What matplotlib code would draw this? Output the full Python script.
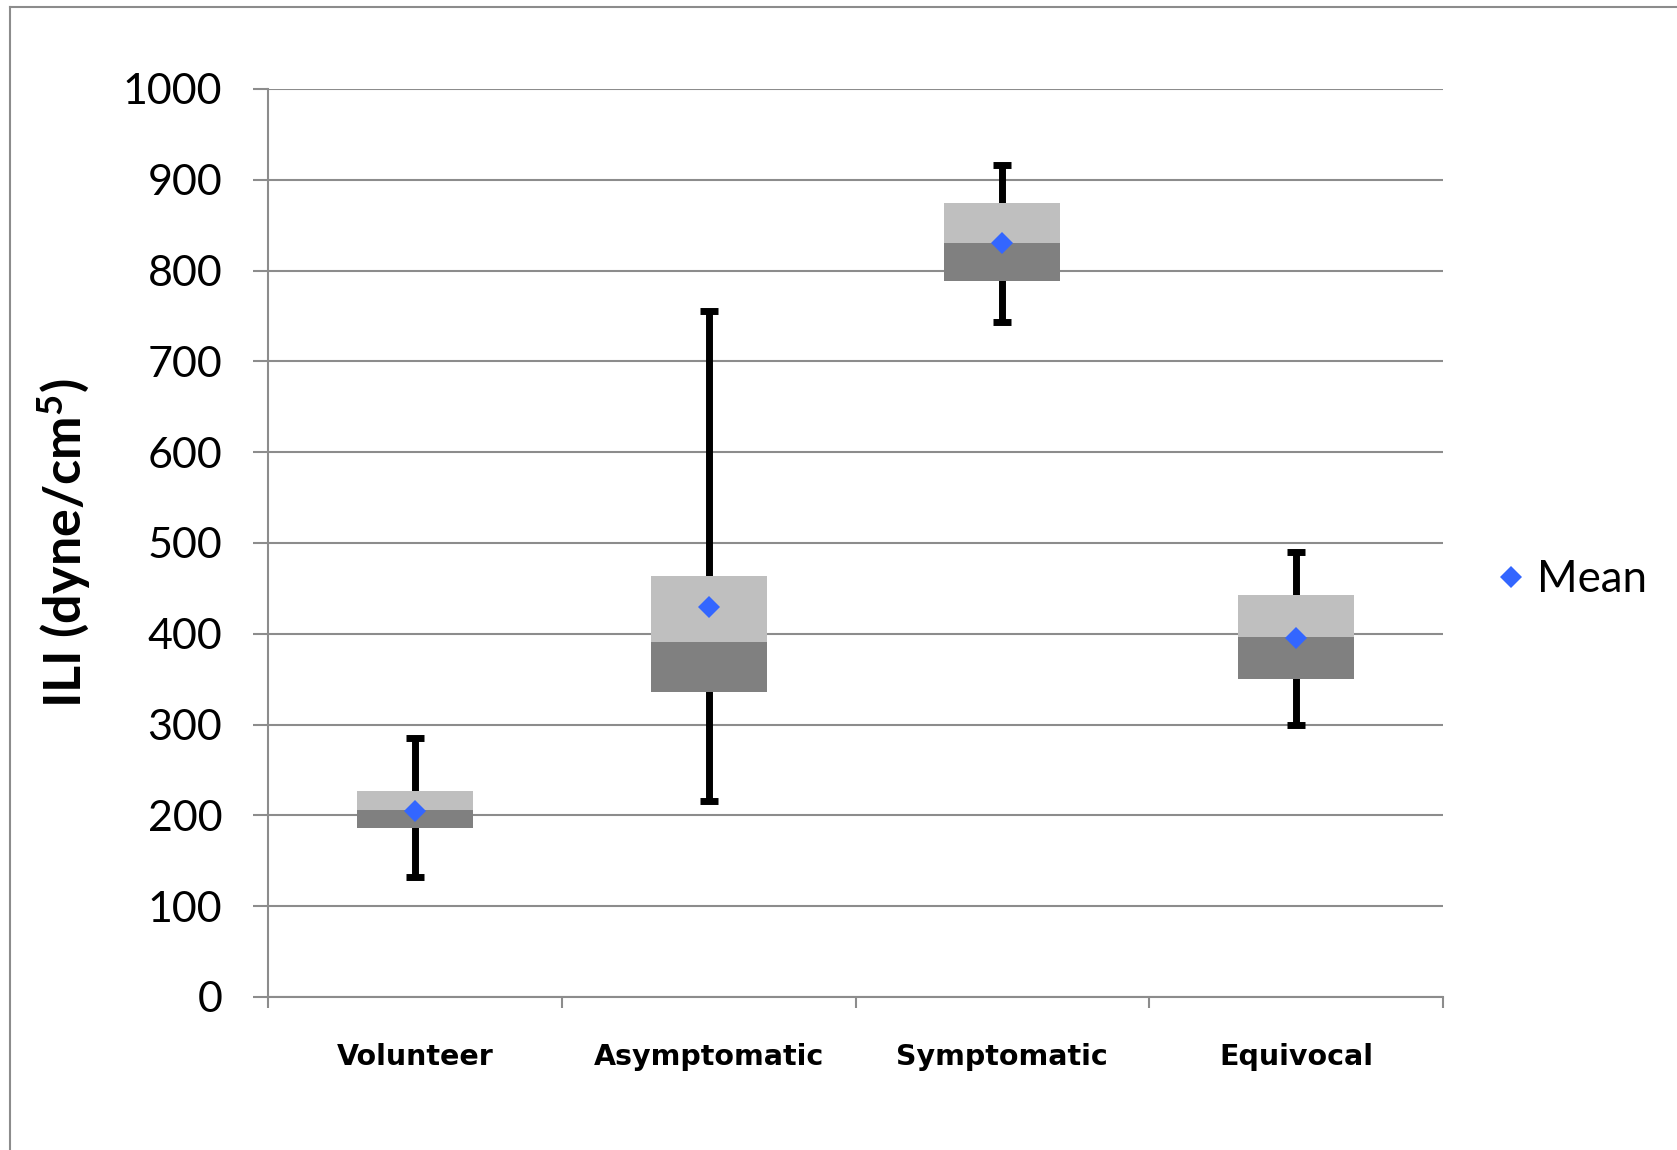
import matplotlib
matplotlib.use("Agg")
import matplotlib.pyplot as plt
from matplotlib.lines import Line2D

categories = ["Volunteer", "Asymptomatic", "Symptomatic", "Equivocal"]
minimum = [132, 216, 743, 300]
q1 = [186, 336, 789, 350]
median = [206, 391, 830, 397]
q3 = [227, 464, 875, 443]
maximum = [285, 756, 916, 490]
mean = [205, 430, 830, 395]
yticks = [0, 100, 200, 300, 400, 500, 600, 700, 800, 900, 1000]

plt.rcParams['mathtext.fontset'] = 'custom'
plt.rcParams['mathtext.rm'] = 'Lato:bold'
plt.rcParams['mathtext.bf'] = 'Lato:bold'
plt.rcParams['mathtext.it'] = 'Lato:bold'

W, H = 1677, 1150
fig = plt.figure(figsize=(W / 100, H / 100), dpi=100)
ax = fig.add_axes([268 / W, 1 - 997 / H, (1443 - 268) / W, (997 - 89) / H])

grid_c = '#8C8C8C'
x = list(range(len(categories)))
lower_h = [m - a for m, a in zip(median, q1)]
upper_h = [b - m for b, m in zip(q3, median)]
width = 0.395

ax.errorbar(x, median,
            yerr=[[m - lo for m, lo in zip(median, minimum)],
                  [hi - m for hi, m in zip(maximum, median)]],
            fmt='none', ecolor='black', elinewidth=5, capsize=6.5, capthick=5, zorder=2)
ax.bar(x, lower_h, bottom=q1, width=width, color='#808080', zorder=3)
ax.bar(x, upper_h, bottom=median, width=width, color='#BFBFBF', zorder=3)
ax.plot(x, mean, linestyle='none', marker='D', markersize=11.5, color='#3366FF',
        markeredgewidth=0, zorder=4, label='Mean')

ax.set_xlim(-0.5, len(categories) - 0.5)
ax.set_ylim(0, 1000)
ax.set_yticks(yticks)
ax.set_yticklabels([str(v) for v in yticks], fontfamily='Lato', fontsize=31)
ax.yaxis.grid(True, color=grid_c, linewidth=1.5, zorder=0)
ax.set_axisbelow(True)

ax.set_xticks(x)
ax.set_xticklabels(categories, fontfamily='DejaVu Sans', fontweight='bold', fontsize=20.5)
ax.set_xticks([i - 0.5 for i in range(len(categories) + 1)], minor=True)
ax.tick_params(axis='x', which='major', length=0, pad=33)
ax.tick_params(axis='x', which='minor', length=8, width=1.5, color=grid_c, direction='out')
ax.tick_params(axis='y', which='major', length=11, width=1.5, color=grid_c, pad=22)

for s in ['top', 'right']:
    ax.spines[s].set_visible(False)
for s in ['left', 'bottom']:
    ax.spines[s].set_color(grid_c)
    ax.spines[s].set_linewidth(1.5)

ax.set_ylabel('ILI (dyne/cm$^{5}$)', fontfamily='Lato', fontweight='bold', fontsize=37.5, va='center')
ax.yaxis.set_label_coords((64 - 268) / 1175, 0.5)

fig.legend(handles=[Line2D([], [], linestyle='none', marker='D', markersize=11.5,
                           color='#3366FF', markeredgewidth=0)],
           labels=['Mean'], loc='center left',
           bbox_to_anchor=(1500 / W, 1 - 580 / H), bbox_transform=fig.transFigure,
           frameon=False, prop={'family': 'Lato', 'size': 31.5},
           handlelength=0.5, handletextpad=0.35, borderpad=0, borderaxespad=0)

# outer chart border (left and top visible)
fig.add_artist(Line2D([10 / W, 10 / W], [0, 1 - 7 / H], transform=fig.transFigure,
                      color='#8C8C8C', linewidth=1.5))
fig.add_artist(Line2D([10 / W, 1], [1 - 7 / H, 1 - 7 / H], transform=fig.transFigure,
                      color='#8C8C8C', linewidth=1.5))

fig.savefig('out.png', dpi=100)
